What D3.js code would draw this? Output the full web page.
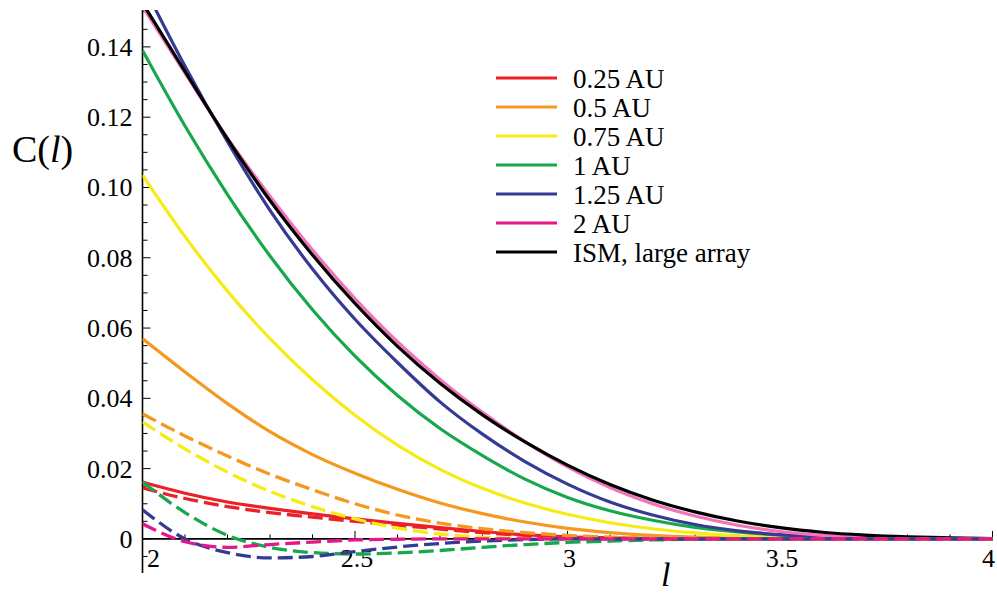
<!DOCTYPE html>
<html>
<head>
<meta charset="utf-8">
<script src="https://cdn.jsdelivr.net/npm/d3@7"></script>
<style>
  body { margin: 0; background: #fff; }
  svg text { font-family: "Liberation Serif", "Times New Roman", Tinos, "DejaVu Serif", "Noto Serif", serif; fill: #000; }
</style>
</head>
<body>
<svg id="chart" width="997" height="594"></svg>
<script>
// l values sampled every 0.1
const ls = [2.0, 2.1, 2.2, 2.3, 2.4, 2.5, 2.6, 2.7, 2.8, 2.9, 3.0, 3.1, 3.2, 3.3, 3.4, 3.5, 3.6, 3.7, 3.8, 3.9, 4.0];

// solid curves
const red025 = [0.0162, 0.0130, 0.0105, 0.0087, 0.0071, 0.0057, 0.0044, 0.0032, 0.0021, 0.0012, 0.0006, 0.0003, 0.0001, 0, 0, 0, 0, 0, 0, 0, 0];
const orange05 = [0.0570, 0.0475, 0.0385, 0.0305, 0.0240, 0.0187, 0.0141, 0.0102, 0.0072, 0.0048, 0.0030, 0.0018, 0.0010, 0.0005, 0.0002, 0.0001, 0, 0, 0, 0, 0];
const yellow075 = [0.1035, 0.0860, 0.0705, 0.0570, 0.0453, 0.0352, 0.0267, 0.0198, 0.0144, 0.0102, 0.0070, 0.0046, 0.0029, 0.0017, 0.0009, 0.0004, 0.0002, 0.0001, 0, 0, 0];
const green1 = [0.1390, 0.1175, 0.0980, 0.0805, 0.0652, 0.0520, 0.0408, 0.0314, 0.0237, 0.0170, 0.0118, 0.0080, 0.0053, 0.0033, 0.0020, 0.0011, 0.0006, 0.0003, 0.0001, 0, 0];
const blue125 = [0.1580, 0.1345, 0.1130, 0.0935, 0.0768, 0.0625, 0.0502, 0.0390, 0.0298, 0.0220, 0.0156, 0.0105, 0.0068, 0.0041, 0.0023, 0.0012, 0.0006, 0.0002, 0.0001, 0, 0];
const pink2 = [0.1515, 0.1325, 0.1140, 0.0975, 0.0822, 0.0684, 0.0561, 0.0454, 0.0360, 0.0277, 0.0205, 0.0146, 0.0100, 0.0065, 0.0039, 0.0021, 0.0010, 0.0004, 0.0001, 0, 0];
const ism = [0.1525, 0.1330, 0.1138, 0.0963, 0.0808, 0.0670, 0.0548, 0.0443, 0.0353, 0.0276, 0.0210, 0.0155, 0.0111, 0.0077, 0.0051, 0.0032, 0.0019, 0.0011, 0.0006, 0.0003, 0.0001];

// dashed curves
const red025d = [0.0145, 0.0115, 0.0092, 0.0075, 0.0062, 0.0050, 0.0039, 0.0028, 0.0018, 0.0010, 0.0005, 0.0002, 0.0001, 0, 0, 0, 0, 0, 0, 0, 0];
const orange05d = [0.0356, 0.0293, 0.0236, 0.0184, 0.0140, 0.0100, 0.0068, 0.0045, 0.0029, 0.0018, 0.0010, 0.0005, 0.0002, 0.0001, 0, 0, 0, 0, 0, 0, 0];
const yellow075d = [0.0333, 0.0256, 0.0190, 0.0135, 0.0092, 0.0057, 0.0031, 0.0014, 0.0005, 0.0001, 0, 0, 0, 0, 0, 0, 0, 0, 0, 0, 0];
const green1d = [0.0162, 0.0075, 0.0010, -0.0024, -0.0039, -0.0043, -0.0040, -0.0033, -0.0024, -0.0016, -0.0010, -0.0006, -0.0003, -0.0001, 0, 0, 0, 0, 0, 0, 0];
const blue125d = [0.0083, 0.0000, -0.0039, -0.0054, -0.0050, -0.0036, -0.0023, -0.0013, -0.0006, -0.0002, 0, 0, 0, 0, 0, 0, 0, 0, 0, 0, 0];
const magenta2d = [0.0043, -0.0008, -0.0024, -0.0016, -0.0009, -0.0003, -0.0001, 0, 0, 0, 0, 0, 0, 0, 0, 0, 0, 0, 0, 0, 0];

const legendLabels = ["0.25 AU", "0.5 AU", "0.75 AU", "1 AU", "1.25 AU", "2 AU", "ISM, large array"];
const legendColors = ["#ec2027", "#f4981f", "#f6eb14", "#17a84b", "#353a94", "#e6168b", "#000000"];

const yMajor = [0, 0.02, 0.04, 0.06, 0.08, 0.10, 0.12, 0.14];
const xMajor = [2, 2.5, 3, 3.5, 4];

const solids = [
  { values: red025, color: "#ec2027" },
  { values: orange05, color: "#f4981f" },
  { values: yellow075, color: "#f6eb14" },
  { values: green1, color: "#17a84b" },
  { values: blue125, color: "#353a94" },
  { values: pink2, color: "#f472b8" },
  { values: ism, color: "#000000" },
];
const dashed = [
  { values: red025d, color: "#ec2027" },
  { values: orange05d, color: "#f4981f" },
  { values: yellow075d, color: "#f6eb14" },
  { values: green1d, color: "#17a84b" },
  { values: blue125d, color: "#353a94" },
  { values: magenta2d, color: "#e6168b" },
];

const svg = d3.select("#chart");
const plotLeft = 142.5, plotRight = 992.5, plotTop = 10, plotBottom = 573;

const x = d3.scaleLinear().domain([2, 4]).range([plotLeft, plotRight]);
const y = d3.scaleLinear().domain([-0.0097, 0.1505]).range([plotBottom, plotTop]);

svg.append("clipPath").attr("id", "plot")
  .append("rect")
  .attr("x", plotLeft).attr("y", plotTop)
  .attr("width", plotRight - plotLeft + 4).attr("height", plotBottom - plotTop);

const line = d3.line()
  .x((d, i) => x(ls[i]))
  .y(d => y(d))
  .curve(d3.curveMonotoneX);

// axes first, curves painted over them
const xAxisY = y(0);
const ax = svg.append("g").attr("class", "axes");

ax.append("line")
  .attr("x1", plotLeft).attr("x2", plotRight)
  .attr("y1", xAxisY).attr("y2", xAxisY)
  .attr("stroke", "#000").attr("stroke-width", 1.6);
ax.append("line")
  .attr("x1", plotLeft).attr("x2", plotLeft)
  .attr("y1", plotTop).attr("y2", plotBottom)
  .attr("stroke", "#000").attr("stroke-width", 1.6);

// x ticks point up from the axis
const xMinor = d3.range(21).map(i => 2 + i * 0.1);
ax.selectAll("line.xt").data(xMinor).join("line")
  .attr("class", "xt")
  .attr("x1", d => x(d)).attr("x2", d => x(d))
  .attr("y1", xAxisY)
  .attr("y2", d => xMajor.some(m => Math.abs(m - d) < 1e-6) ? xAxisY - 8 : xAxisY - 4.5)
  .attr("stroke", "#000").attr("stroke-width", 1);

// y ticks point right
const yMinor = d3.range(-1, 31).map(i => i * 0.005);
ax.selectAll("line.yt").data(yMinor).join("line")
  .attr("class", "yt")
  .attr("x1", plotLeft)
  .attr("x2", d => yMajor.some(m => Math.abs(m - d) < 1e-6) ? plotLeft + 8 : plotLeft + 5)
  .attr("y1", d => y(d)).attr("y2", d => y(d))
  .attr("stroke", "#000").attr("stroke-width", 1);

ax.selectAll("text.yl").data(yMajor).join("text")
  .attr("class", "yl")
  .attr("x", plotLeft - 10)
  .attr("y", d => y(d) + 9)
  .attr("text-anchor", "end")
  .style("font-size", "26px")
  .text(d => d === 0 ? "0" : d3.format(".2f")(d));

ax.selectAll("text.xl").data(xMajor).join("text")
  .attr("class", "xl")
  .attr("x", d => d === 2 ? x(d) + 11 : d === 4 ? x(d) - 4 : x(d) + 2)
  .attr("y", xAxisY + 28)
  .attr("text-anchor", "middle")
  .style("font-size", "26px")
  .text(d => d3.format("")(d));

// axis labels
svg.append("text")
  .attr("x", 12).attr("y", 162)
  .style("font-size", "38px")
  .html('C(<tspan font-style="italic">l</tspan>)');
svg.append("text")
  .attr("x", 661).attr("y", 586)
  .style("font-size", "34px")
  .style("font-style", "italic")
  .text("l");

// curves
const curves = svg.append("g").attr("clip-path", "url(#plot)");
curves.selectAll("path.solid").data(solids).join("path")
  .attr("class", "solid")
  .attr("d", d => line(d.values))
  .attr("fill", "none")
  .attr("stroke", d => d.color)
  .attr("stroke-width", 3.2);
curves.selectAll("path.dashed").data(dashed).join("path")
  .attr("class", "dashed")
  .attr("d", d => line(d.values))
  .attr("fill", "none")
  .attr("stroke", d => d.color)
  .attr("stroke-width", 3.3)
  .attr("stroke-dasharray", "15,6");

// legend
const legend = svg.append("g").attr("transform", "translate(496,78)");
const rows = legend.selectAll("g").data(legendLabels).join("g")
  .attr("transform", (d, i) => `translate(0,${i * 29})`);
rows.append("line")
  .attr("x1", 0).attr("x2", 61)
  .attr("stroke", (d, i) => legendColors[i])
  .attr("stroke-width", 3.2);
rows.append("text")
  .attr("x", 77).attr("y", 10)
  .style("font-size", "27px")
  .text(d => d);
</script>
</body>
</html>
